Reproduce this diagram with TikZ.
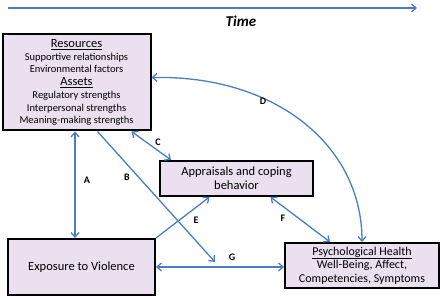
\documentclass[tikz,border=0pt]{standalone}
\usepackage{fontspec}
\setmainfont{Carlito}
\usetikzlibrary{arrows.meta}
\definecolor{linkblue}{RGB}{74,126,196}
\definecolor{boxfill}{RGB}{234,224,240}

\begin{document}
\begin{tikzpicture}[
  x=1pt, y=-1pt,
  box/.style={draw, line width=2pt, fill=boxfill, align=center, inner sep=0pt, font=\fontsize{12.5}{14}\selectfont},
  link/.style={linkblue, line width=1.3pt, -{Straight Barb[length=4.5pt,width=8pt]}},
  dlink/.style={link, {Straight Barb[length=4.5pt,width=8pt]}-{Straight Barb[length=4.5pt,width=8pt]}},
  lab/.style={text=black, font=\bfseries\fontsize{10}{11}\selectfont}
]
  \useasboundingbox (0,0) rectangle (440,299);
  % time axis
  \coordinate (t0) at (8,8);
  \coordinate (t1) at (417,8);
  \draw[link] (t0) -- (t1);
  \node[font=\bfseries\itshape\fontsize{15}{16}\selectfont] (time) at (241,21) {Time};
  % boxes
  \node[box, minimum width=148pt, minimum height=96pt, font=\fontsize{10.5}{12.7}\selectfont] (res) at (76.5,82.5)
    {{\fontsize{12.5}{12.7}\selectfont\underline{Resources}}\\Supportive relationships\\Environmental factors\\{\fontsize{12.5}{12.7}\selectfont\underline{Assets}}\\Regulatory strengths\\Interpersonal strengths\\Meaning-making strengths};
  \node[box, minimum width=153pt, minimum height=35pt] (appr) at (236.5,178.5) {Appraisals and coping\\behavior};
  \node[box, minimum width=147pt, minimum height=56pt] (expo) at (81.5,267) {Exposure to Violence};
  \node[box, minimum width=154pt, minimum height=45pt, font=\fontsize{12}{13.5}\selectfont] (psych) at (362,265.5)
    {\underline{Psychological Health}\\Well-Being, Affect,\\Competencies, Symptoms};
  % connectors
  \coordinate (bEnd) at (215,262);
  \draw[dlink] ([xshift=-1.5pt]res.south) -- ([xshift=-1.5pt]res.south |- expo.north);
  \draw[link] ([xshift=21pt]res.south) -- (bEnd);
  \draw[dlink] ([xshift=-20pt]res.south east) -- ([xshift=12pt]appr.north west);
  \draw[dlink] ([yshift=5pt]res.east) .. controls (275,75) and (362,145) .. (psych.north);
  \draw[link] (expo.north east) -- ([xshift=-27pt]appr.south);
  \draw[dlink] ([xshift=34pt]appr.south) -- ([xshift=-32pt]psych.north);
  \draw[dlink] (expo.east) -- (expo.east -| psych.west);
  % path labels
  \node[lab] (A) at (87,180) {A};
  \node[lab] (B) at (127,177) {B};
  \node[lab] (C) at (158,142) {C};
  \node[lab] (D) at (263,101) {D};
  \node[lab] (E) at (196,220) {E};
  \node[lab] (F) at (283,218) {F};
  \node[lab] (G) at (232,257) {G};
\end{tikzpicture}
\end{document}
